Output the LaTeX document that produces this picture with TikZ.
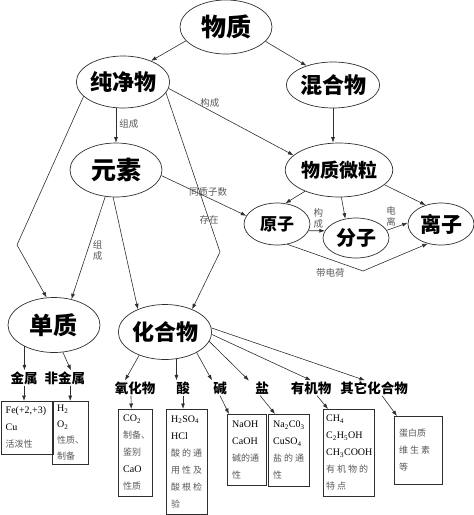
\documentclass[tikz,border=0pt]{standalone}
\usepackage{fontspec}
\setmainfont{Liberation Serif}
\newfontfamily\cjk{Noto Sans CJK SC}
\newfontfamily\cjkwide{Noto Sans CJK SC}[LetterSpace=22]
\usetikzlibrary{arrows.meta,shapes.geometric}
\definecolor{Wire}{HTML}{2E2E2E}
\definecolor{Grey}{HTML}{5A5A5A}
\newcommand\hz[1]{{\cjk\color{Grey}\fontsize{9}{17}\selectfont#1}}
\newcommand\hzw[1]{{\cjkwide\color{Grey}\fontsize{9}{17}\selectfont#1}}
\tikzset{topic/.style={ellipse,draw=Wire,line width=0.7pt,inner sep=0pt,
  font=\cjk\bfseries\fontsize{#1}{#1}\selectfont},topic/.default=22,
  kind/.style={inner sep=1pt,font=\cjk\bfseries\fontsize{13.5}{14}\selectfont},
  tag/.style={inner sep=0pt,text=Grey,align=center,font=\cjk\fontsize{9.5}{11}\selectfont},
  card/.style={draw=Wire,anchor=north west,align=left,inner xsep=5pt,inner ysep=0pt,
    text width=#1,font=\fontsize{10}{17}\selectfont},
  link/.style={-{Latex[length=5.5pt,width=4pt]},line width=0.6pt,draw=Wire}}
\begin{document}
\begin{tikzpicture}[x=1pt,y=-1pt]
\useasboundingbox (0,0) rectangle (474,515);
\node[topic=25,minimum width=92,minimum height=54] (wuzhi) at (226,27) {物质};
\node[topic,minimum width=88,minimum height=52] (chunjing) at (123,82) {纯净物};
\node[topic,minimum width=92,minimum height=46] (hunhe) at (333,85) {混合物};
\node[topic=25,minimum width=92,minimum height=54] (yuansu) at (116,170) {元素};
\node[topic=19,minimum width=92,minimum height=54] (weili) at (339,170) {物质微粒};
\node[topic=17,minimum width=66,minimum height=42] (yuanzi) at (277,224) {原子};
\node[topic=20,minimum width=66,minimum height=40] (fenzi) at (356,238) {分子};
\node[topic=21,minimum width=66,minimum height=42] (lizi) at (441,224) {离子};
\node[topic=24,minimum width=92,minimum height=55] (danzhi) at (54,325) {单质};
\node[topic,minimum width=92,minimum height=55] (huahe) at (165,332) {化合物};

\coordinate (bendL) at (17,245);
\coordinate (bendR) at (220,252);
\coordinate (bendB) at (363,271);

\draw[link] (wuzhi.199) -- (chunjing.37);
\draw[link] (wuzhi.-20) -- (hunhe.144);
\draw[link] (yuansu.north |- chunjing.south) -- node[tag,right=3pt,pos=0.45] {组成} (yuansu.north);
\draw[link] (chunjing.-8) -- node[tag,pos=0.33,above=3pt] {构成} (weili.162);
\draw[link] (hunhe.south) -- (hunhe.south |- weili.north);
\draw[link] (chunjing.200) -- (bendL) -- (danzhi.105);
\draw[link] (chunjing.-14) -- node[tag,pos=0.8] {存在} (bendR) -- (huahe.40);
\draw[link] (yuansu.-112) -- node[tag,pos=0.52,right=5pt] {组\\成} (danzhi.56);
\draw[link] (yuansu.-96) -- (huahe.140);
\draw[link] (yuansu.-7) -- node[tag,pos=0.55,yshift=6pt] {同质子数} (yuanzi.165);
\draw[link] (weili.-148) -- (yuanzi.68);
\draw[link] (weili.-85) -- (fenzi.119);
\draw[link] (weili.-18) -- (lizi.129);
\draw[link] (yuanzi.-12) -- node[tag,pos=0.6,above=2pt] {构\\成} (fenzi.167);
\draw[link] (fenzi.14) -- node[tag,pos=0.2,above=2pt] {电\\离} (lizi.178);
\draw[link] (yuanzi.-63) -- node[tag,pos=0.57,below=9pt] {带电荷} (bendB) -- (lizi.-124);

\node[kind] (jinshu) at (24,378) {金属};
\node[kind] (feijin) at (65,378) {非金属};
\node[kind] (yanghua) at (135,388) {氧化物};
\node[kind] (suan) at (183,388) {酸};
\node[kind] (jian) at (220,388) {碱};
\node[kind] (yan) at (262,388) {盐};
\node[kind] (youji) at (311,388) {有机物};
\node[kind] (qita) at (374,388) {其它化合物};

\draw[link] (danzhi.-144) -- (danzhi.-144 |- jinshu.north);
\draw[link] (danzhi.-72) -- ([xshift=6pt]feijin.north);
\draw[link] (huahe.-138) -- ([xshift=-10pt]yanghua.north);
\draw[link] (huahe.-67) -- (huahe.-67 |- suan.north);
\draw[link] (huahe.-33) -- ([xshift=-8pt]jian.north);
\draw[link] (huahe.-12) -- ([xshift=-13pt]yan.north);
\draw[link] (huahe.-3) -- (youji.north);
\draw[link] (huahe.5) -- ([xshift=-9pt]qita.north);

\node[card=42,minimum height=53] (c1) at (0.5,401) {Fe(+2,+3)\\Cu\\\hz{活泼性}};
\node[card=26,minimum height=63,font=\fontsize{10}{16}\selectfont] (c2) at (52,401)
  {H\textsubscript{2}\\O\textsubscript{2}\\\hz{性质、}\\\hz{制备}};
\node[card=24,minimum height=87] (c3) at (118,409)
  {CO\textsubscript{2}\\\hz{制备、}\\\hz{鉴别}\\CaO\\\hz{性质}};
\node[card=31,minimum height=105] (c4) at (166,409)
  {H\textsubscript{2}SO\textsubscript{4}\\HCl\\\hzw{酸的通}\\\hzw{用性及}\\\hzw{酸根检}\\\hzw{验}};
\node[card=29,minimum height=71] (c5) at (227,414)
  {NaOH\\CaOH\\\hz{碱的通}\\\hz{性}};
\node[card=31,minimum height=72] (c6) at (268,414)
  {Na\textsubscript{2}C0\textsubscript{3}\\CuSO\textsubscript{4}\\\hzw{盐的通}\\\hzw{性}};
\node[card=45,inner xsep=3pt,minimum height=87] (c7) at (323,409)
  {CH\textsubscript{4}\\C\textsubscript{2}H\textsubscript{5}OH\\CH\textsubscript{3}COOH\\\hzw{有机物的}\\\hzw{特点}};
\node[card=38,minimum height=68] (c8) at (394,416)
  {\hz{蛋白质}\\\hzw{维生素}\\\hz{等}\\[6pt]};

\draw[link] (jinshu.south) -- (jinshu.south |- c1.north);
\draw[link] (c2.north |- feijin.south) -- (c2.north);
\draw[link] ([xshift=-4pt]yanghua.south) -- ([xshift=-4pt]c3.north);
\draw[link] (suan.south) -- (suan.south |- c4.north);
\draw[link] (jian.south) -- ([xshift=2pt]c5.north west);
\draw[link] ([xshift=-2pt]yan.south) -- ([xshift=7pt]c6.north west);
\draw[link] ([xshift=6pt]youji.south) -- ([xshift=5pt]c7.north west);
\draw[link] ([xshift=8pt]qita.south) -- ([xshift=3pt]c8.north west);
\end{tikzpicture}
\end{document}
